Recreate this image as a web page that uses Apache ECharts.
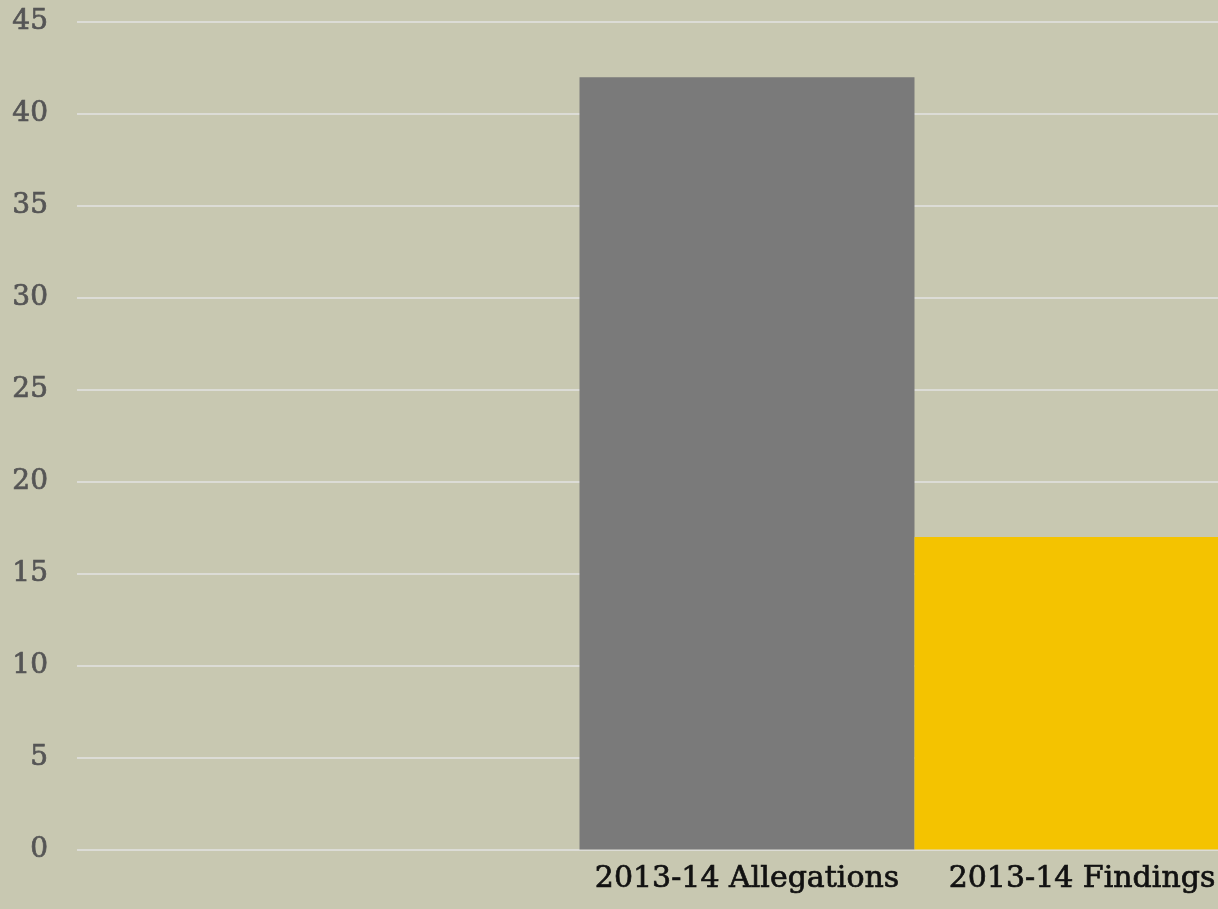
<!DOCTYPE html>
<html>
<head>
<meta charset="utf-8">
<script src="https://cdn.jsdelivr.net/npm/echarts@6/dist/echarts.min.js"></script>
<style>
html,body{margin:0;padding:0;background:#c8c8b1;}
#chart{width:1218px;height:909px;}
</style>
</head>
<body>
<div id="chart"></div>
<script>
const categories = ['2013-14 Allegations', '2013-14 Findings'];
const values = [42, 17];
const yTicks = { min: 0, max: 45, interval: 5 };

const barColors = ['#7a7a7a', '#f4c300'];
// leading empty slots and one trailing slot so the bars sit where the reference has them
const axisData = ['', ''].concat(categories).concat(['']);
const seriesData = [null, null].concat(values.map((v, i) => ({ value: v, itemStyle: { color: barColors[i] } }))).concat([null]);

const chart = echarts.init(document.getElementById('chart'));
chart.setOption({
  backgroundColor: '#c8c8b1',
  animation: false,
  grid: { left: 77, top: 22, width: 1340, height: 827.5, containLabel: false, outerBoundsMode: 'none' },
  xAxis: {
    type: 'category',
    boundaryGap: false,
    data: axisData,
    axisLine: { show: false },
    axisTick: { show: false },
    splitLine: { show: false },
    axisLabel: {
      interval: 0,
      margin: 15,
      color: '#111111',
      fontFamily: 'DejaVu Serif',
      fontSize: 30,
      textBorderColor: '#111111',
      textBorderWidth: 0.7
    }
  },
  yAxis: {
    type: 'value',
    min: yTicks.min,
    max: yTicks.max,
    interval: yTicks.interval,
    axisLine: { show: false },
    axisTick: { show: false },
    splitLine: { lineStyle: { color: '#dcdcd6', width: 2 } },
    axisLabel: {
      margin: 29,
      color: '#555555',
      fontFamily: 'DejaVu Serif',
      fontSize: 28,
      textBorderColor: '#555555',
      textBorderWidth: 0.7
    }
  },
  series: [{
    type: 'bar',
    data: seriesData,
    barCategoryGap: '0%',
    barGap: '0%'
  }]
});
</script>
</body>
</html>
